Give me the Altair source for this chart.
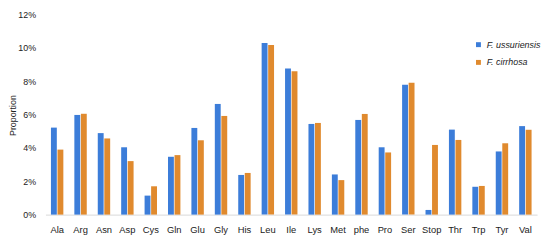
import altair as alt
import pandas as pd

amino = ["Ala","Arg","Asn","Asp","Cys","Gln","Glu","Gly","His","Leu","Ile","Lys","Met","phe","Pro","Ser","Stop","Thr","Trp","Tyr","Val"]
ussuriensis = [5.22,5.98,4.89,4.04,1.14,3.47,5.20,6.64,2.38,10.30,8.76,5.44,2.41,5.68,4.04,7.79,0.28,5.10,1.67,3.79,5.31]
cirrhosa = [3.90,6.05,4.57,3.21,1.70,3.57,4.46,5.92,2.50,10.18,8.60,5.50,2.07,6.04,3.73,7.91,4.18,4.48,1.72,4.28,5.09]
series = ["F. ussuriensis", "F. cirrhosa"]
colors = ["#3C7DD9", "#E08A2E"]

rows = []
for i, a in enumerate(amino):
    rows.append({"aa": a, "series": series[0], "value": ussuriensis[i]})
    rows.append({"aa": a, "series": series[1], "value": cirrhosa[i]})
df = pd.DataFrame(rows)

font = "Liberation Sans"

chart = alt.Chart(df).mark_bar().encode(
    x=alt.X("aa:N", sort=amino, title=None,
            scale=alt.Scale(paddingInner=0.47, paddingOuter=0.235),
            axis=alt.Axis(labelAngle=0, ticks=False, domainColor="#d9d9d9",
                          labelPadding=10, labelFontSize=9.5, labelColor="#222",
                          labelFont=font)),
    xOffset=alt.XOffset("series:N", sort=series, scale=alt.Scale(paddingInner=0.1)),
    y=alt.Y("value:Q", title="Proportion",
            scale=alt.Scale(domain=[0, 12]),
            axis=alt.Axis(values=[0,2,4,6,8,10,12], labelExpr="datum.value + '%'",
                          grid=False, domain=False, ticks=False, labelPadding=10,
                          labelFontSize=9, labelColor="#222", labelFont=font,
                          titleFont=font, titleFontSize=9, titleFontWeight="normal",
                          titleColor="#222", titleX=-33, titleY=102,
                          titleBaseline="middle", titleAlign="center")),
    color=alt.Color("series:N", sort=series,
                    scale=alt.Scale(domain=series, range=colors),
                    legend=alt.Legend(title=None, orient="none", legendX=435, legendY=26,
                                      symbolType="square", symbolSize=25,
                                      labelFontStyle="italic", labelFontSize=9,
                                      labelFont=font, labelColor="#222",
                                      rowPadding=8, symbolStrokeWidth=0)),
).properties(
    width=499, height=203,
    autosize=alt.AutoSizeParams(type="none"),
    padding={"left": 38, "top": 5, "right": 5, "bottom": 20},
).configure_view(stroke=None)

chart.save("out.html", embed_options={"renderer": "svg", "actions": False})
